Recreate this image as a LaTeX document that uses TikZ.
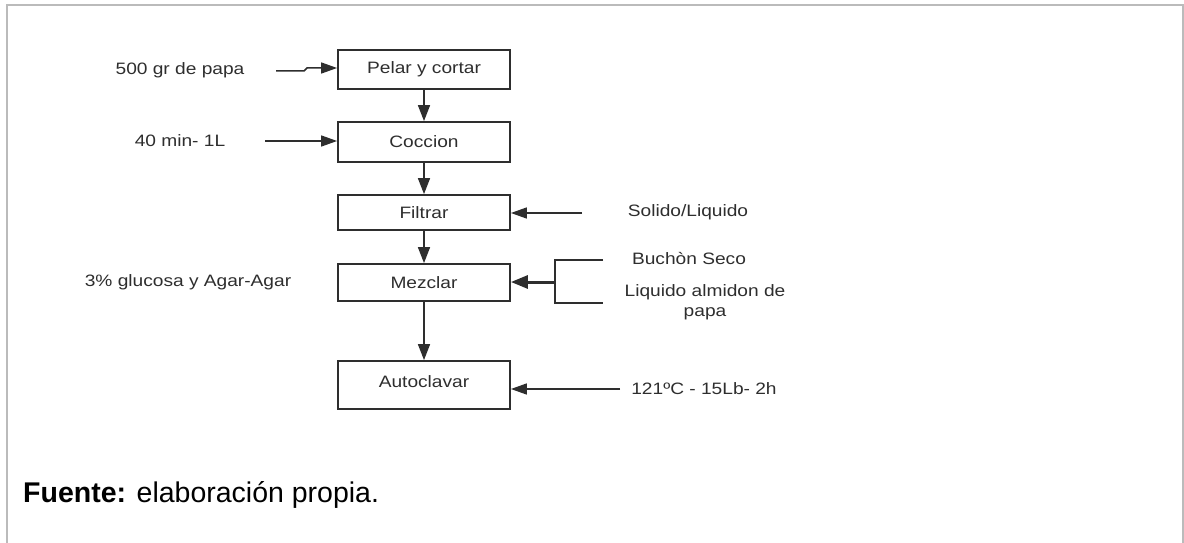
\documentclass[tikz,border=0pt]{standalone}
\usepackage{fontspec}
\setmainfont{Liberation Sans}
\newfontfamily\diagfont[FakeStretch=1.16]{Liberation Sans}
\usetikzlibrary{arrows.meta}
\definecolor{ink}{HTML}{2E2E2E}
\definecolor{frame}{HTML}{BBBBBB}
\begin{document}
\begin{tikzpicture}[x=1pt,y=-1pt,
  stepbox/.style={draw=ink,line width=1.8pt,minimum width=172pt,inner sep=0pt,
    font=\diagfont\fontsize{16.5}{19}\selectfont,text=ink},
  lbl/.style={inner sep=0pt,font=\diagfont\fontsize{16.5}{20}\selectfont,text=ink,align=center},
  flow/.style={draw=ink,line width=1.5pt,-{Triangle[length=16pt,width=12pt]}},
  feed/.style={draw=ink,line width=1.5pt,-{Triangle[length=16pt,width=11pt]}},
  bracket/.style={draw=ink,line width=1.8pt}]
\useasboundingbox (0,0) rectangle (1184,543);
\fill[white] (0,0) rectangle (1184,543);
% page frame
\draw[frame,line width=1.5pt] (7,543) -- (7,5) -- (1183,5) -- (1183,543);

% process steps
\node[stepbox,minimum height=39pt] (pelar) at (424,69.5) {Pelar y cortar};
\node[stepbox,minimum height=40pt] (coccion) at (424,142) {Coccion};
\node[stepbox,minimum height=35pt] (filtrar) at (424,212.5) {Filtrar};
\node[stepbox,minimum height=37pt] (mezclar) at (424,282.5) {Mezclar};
\node[stepbox,minimum height=48pt,text depth=6pt] (autoclavar) at (424,385) {Autoclavar};

% main flow
\draw[flow] (pelar) -- (coccion);
\draw[flow] (coccion) -- (filtrar);
\draw[flow] (filtrar) -- (mezclar);
\draw[flow] (mezclar) -- (autoclavar);

% side labels
\node[lbl] (t500) at (180,70) {500 gr de papa};
\node[lbl] (t40) at (180,141) {40 min- 1L};
\node[lbl] (tglu) at (188,282) {3\% glucosa y Agar-Agar};
\node[lbl] (tsol) at (688,212) {Solido/Liquido};
\node[lbl] (tbuch) at (689,259) {Buchòn Seco};
\node[lbl,anchor=north] (tliq) at (705,284) {Liquido almidon de\\papa};
\node[lbl] (t121) at (704,389) {121ºC - 15Lb- 2h};

% inputs
\coordinate (a500) at (276,71);
\coordinate (j1) at (304,71);
\coordinate (j2) at (307,68);
\draw[feed] (a500) -- (j1) -- (j2) -- (j2 -| pelar.west);
\coordinate (a40) at (265,141);
\draw[feed] (a40) -- (a40 -| coccion.west);
\coordinate (asol) at (582,213);
\draw[feed] (asol) -- (asol -| filtrar.east);
\coordinate (a121) at (620,389);
\draw[feed] (a121) -- (a121 -| autoclavar.east);

% two-input bracket into the mixing step
\coordinate (btop) at (603,260);
\coordinate (bbot) at (603,303);
\coordinate (bmid) at (555,282);
\draw[bracket] (btop) -- (555,260) -- (555,303) -- (bbot);
\draw[draw=ink,line width=3pt,-{Triangle[length=17pt,width=13pt]}] (bmid) -- (bmid -| mezclar.east);

% source note
\node[anchor=west,inner sep=0pt,font=\fontsize{28.5}{32}\selectfont,text=black] (fuente) at (23,495)
  {\textbf{Fuente:} elaboración propia.};
\end{tikzpicture}
\end{document}
